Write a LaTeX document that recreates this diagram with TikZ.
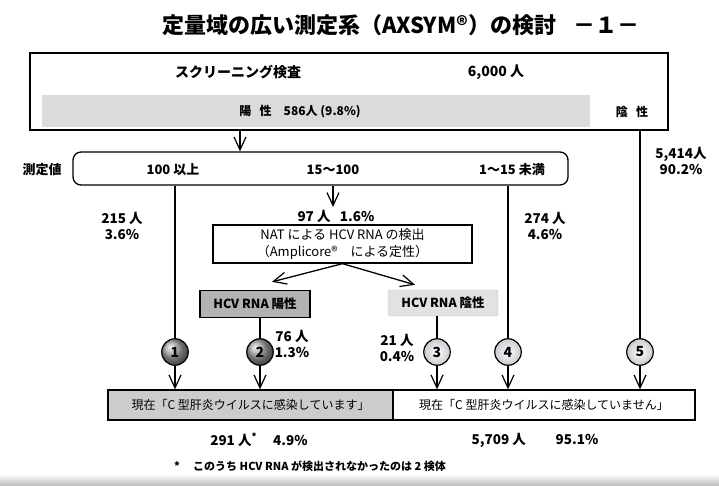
\documentclass[tikz,border=0pt]{standalone}
\usepackage{fontspec}
\setmainfont{Noto Sans CJK JP}
\usetikzlibrary{arrows.meta,calc,shadings}
\begin{document}
\begin{tikzpicture}[x=1pt,y=-1pt,
  txt/.style={font=\fontsize{13}{15}\selectfont\bfseries, inner sep=0pt},
  lbl/.style={font=\fontsize{13.5}{16}\selectfont\bfseries, align=center, inner sep=0pt},
  boxst/.style={draw, line width=1.3pt, inner sep=0pt, align=center},
  arr/.style={line width=1.3pt, -{Straight Barb[length=13pt,width=12pt,line width=1.2pt]}},
  ln/.style={line width=1.3pt},
  dnum/.style={circle, draw, line width=1.2pt, minimum size=26.5pt, inner sep=0pt, ball color=gray!70, font=\fontsize{14}{14}\selectfont\bfseries},
  lnum/.style={circle, draw, line width=1.2pt, minimum size=26.5pt, inner sep=0pt, inner color=white, outer color=blue!6!gray!40, font=\fontsize{14}{14}\selectfont\bfseries}
]
\useasboundingbox (0,0) rectangle (719,486);
\fill[white] (0,0) rectangle (719,486);
\shade[top color=white, bottom color=gray!55] (0,474) rectangle (719,486);

% title
\node[inner sep=0pt, font=\fontsize{22}{24}\selectfont\bfseries] (title) at (401,25) {定量域の広い測定系（AXSYM®）の検討\hspace{0.8em}－１－};

% top box
\node[fill=gray!28, minimum width=548pt, minimum height=32pt, inner sep=0pt] (band) at (316,111) {};
\node[boxst, minimum width=638pt, minimum height=77pt] (top) at (349,91.5) {};
\node[txt, font=\fontsize{14}{16}\selectfont\bfseries] (scr) at (238,72) {スクリーニング検査};
\node[txt, font=\fontsize{14}{16}\selectfont\bfseries] (n6000) at (496,72) {6,000 人};
\node[txt, font=\fontsize{12}{14}\selectfont\bfseries] (pos0) at (300,112) {陽\hspace{0.7em}性\hspace{1em}586人 (9.8\%)};
\node[txt, font=\fontsize{12}{14}\selectfont\bfseries] (neg0) at (632,112) {陰\hspace{0.7em}性};

% measurement box
\node[boxst, rounded corners=8pt, minimum width=495pt, minimum height=33pt] (meas) at (320.5,168.5) {};
\node[txt] (mlab) at (42,170) {測定値};
\node[txt] (m1) at (173,170) {100 以上};
\node[txt] (m2) at (333,170) {15～100};
\node[txt] (m3) at (512,170) {1～15 未満};

% NAT
\node[boxst, minimum width=259pt, minimum height=38pt, font=\fontsize{13}{17}\selectfont] (nat) at (342.5,244) {NAT による HCV RNA の検出\\（Amplicore®　による定性）};
\node[lbl] (n97) at (336,216) {97 人\hspace{0.7em}1.6\%};

\node[boxst, fill=gray!60, minimum width=110pt, minimum height=27pt, font=\fontsize{12.5}{14}\selectfont\bfseries] (pos) at (255,304) {HCV RNA 陽性};
\node[inner sep=0pt, fill=blue!5!gray!22, draw=gray!45, rounded corners=2pt, minimum width=110pt, minimum height=26pt, font=\fontsize{12.5}{14}\selectfont\bfseries] (neg) at (443,303) {HCV RNA 陰性};

% bottom boxes
\node[boxst, fill=gray!40, minimum width=285pt, minimum height=30pt, font=\fontsize{12}{14}\selectfont] (bl) at (250.5,405) {現在「C 型肝炎ウイルスに感染しています」};
\node[boxst, minimum width=302pt, minimum height=30pt, font=\fontsize{12}{14}\selectfont] (br) at (544,405) {現在「C 型肝炎ウイルスに感染していません」};

% circles
\node[dnum] (c1) at (175,352) {1};
\node[dnum] (c2) at (260,352) {2};
\node[lnum] (c3) at (437,352) {3};
\node[lnum] (c4) at (508,352) {4};
\node[lnum] (c5) at (640,352) {5};

% labels
\node[lbl] (l215) at (122,226) {215 人\\3.6\%};
\node[lbl] (l274) at (545,226) {274 人\\4.6\%};
\node[lbl] (l5414) at (681,161) {5,414人\\90.2\%};
\node[lbl] (l76) at (292,344) {76 人\\1.3\%};
\node[lbl] (l21) at (397,348) {21 人\\0.4\%};
\node[lbl] (s291) at (259,440) {291 人\textsuperscript{*}\hspace{1.2em}4.9\%};
\node[lbl] (s5709) at (535,440) {5,709 人\hspace{2.2em}95.1\%};
\node[txt, font=\fontsize{11}{13}\selectfont\bfseries] (foot) at (310,466) {*\hspace{1.2em}このうち HCV RNA が検出されなかったのは 2 検体};

% connectors
\coordinate (x240) at (240,0);
\coordinate (x333) at (333,0);
\coordinate (a97) at (333,207);
\draw[arr] (top.south -| x240) -- (meas.north -| x240);
\draw[arr] (meas.south -| x333) -- (a97);
\coordinate (tpos) at ($(pos.north)+(17,-8)$);
\coordinate (tneg) at ($(neg.north)+(-28,-5)$);
\draw[arr] (nat.south) -- (tpos);
\draw[arr] (nat.south) -- (tneg);

\draw[ln] (meas.south -| c1) -- (c1.north);
\draw[arr] (c1.south) -- (bl.north -| c1);
\draw[ln] (pos.south -| c2) -- (c2.north);
\draw[arr] (c2.south) -- (bl.north -| c2);
\draw[ln] (neg.south -| c3) -- (c3.north);
\draw[arr] (c3.south) -- (br.north -| c3);
\draw[ln] (meas.south -| c4) -- (c4.north);
\draw[arr] (c4.south) -- (br.north -| c4);
\draw[ln] (top.south -| c5) -- (c5.north);
\draw[arr] (c5.south) -- (br.north -| c5);
\end{tikzpicture}
\end{document}
